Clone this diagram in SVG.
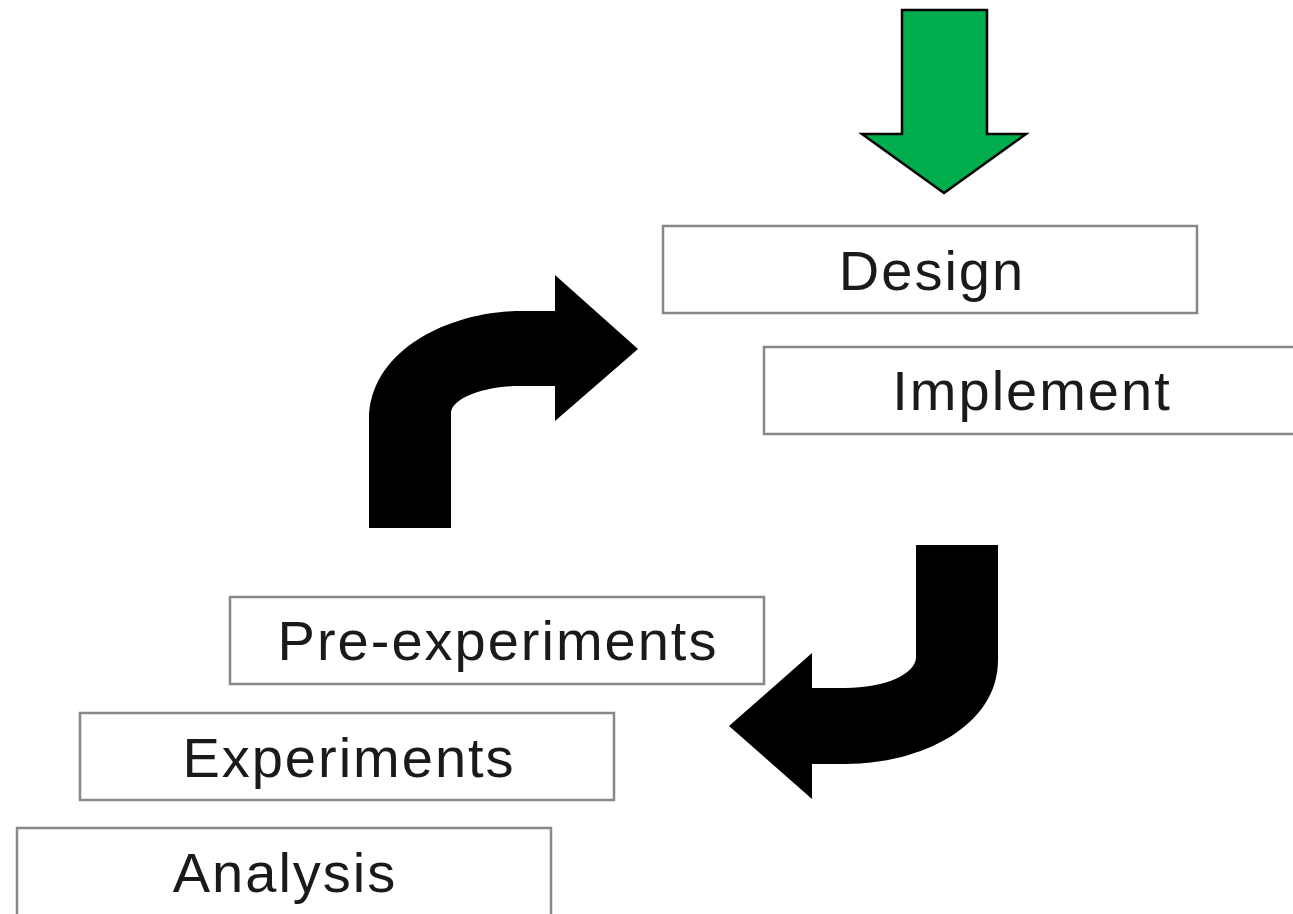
<svg xmlns="http://www.w3.org/2000/svg" width="1293" height="914" viewBox="0 0 1293 914">
<style>
.box{fill:#fff;stroke:#888;stroke-width:2.5}
.lbl{font-family:"Liberation Sans",Arial,sans-serif;font-size:56px;fill:#1a1a1a;text-anchor:middle;letter-spacing:2px}
</style>
<rect width="1293" height="914" fill="#fff"/>
<g id="connectors">
<path id="green-arrow" d="M902,10 L987,10 L987,134 L1026,134 L944,193 L862,134 L902,134 Z" fill="#00ad4d" stroke="#000" stroke-width="2.5" stroke-linejoin="miter"/>
<path id="arrow-up-right" d="M369,528 L369,420 C369,350 450,311 522,311 L555,311 L555,275 L638,349 L555,421 L555,386 L520,386 C480,386 451,400 451,413 L451,528 Z" fill="#000"/>
<path id="arrow-down-left" d="M998,545 L998,660 C998,727 920,764 845,764 L812,764 L812,799 L729,726 L812,653 L812,688 L845,688 C885,688 916,674 916,657 L916,545 Z" fill="#000"/>
</g>
<g id="design"><rect class="box" x="663" y="226" width="534" height="87"/><text class="lbl" x="932" y="290">Design</text></g>
<g id="implement"><rect class="box" x="764" y="347" width="536" height="87"/><text class="lbl" x="1032" y="410">Implement</text></g>
<g id="pre-experiments"><rect class="box" x="230" y="597" width="534" height="87"/><text class="lbl" x="498" y="660">Pre-experiments</text></g>
<g id="experiments"><rect class="box" x="80" y="713" width="534" height="87"/><text class="lbl" x="349" y="777">Experiments</text></g>
<g id="analysis"><rect class="box" x="17" y="828" width="534" height="100"/><text class="lbl" x="285" y="892">Analysis</text></g>
</svg>
